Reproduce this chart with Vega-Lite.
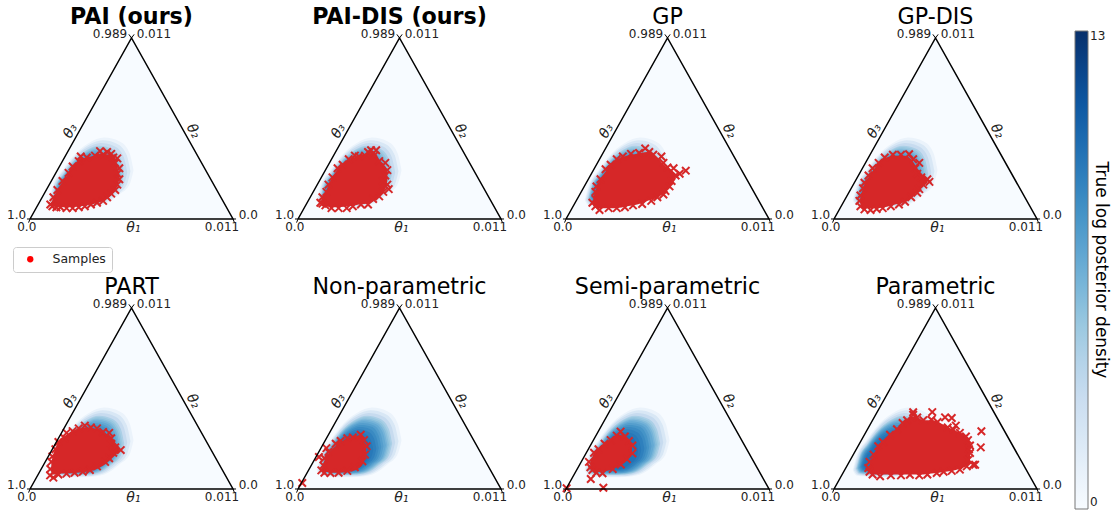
{"$schema":"https://vega.github.io/schema/vega-lite/v6.json","padding":0,"background":"white","config":{"view":{"stroke":null},"font":"DejaVu Sans","header":{"labels":false,"title":null,"labelFontSize":0,"labelPadding":0,"titlePadding":0}},
"datasets":{
"tri":[{"a":0,"b":0,"o":0},{"a":50,"b":100,"o":1},{"a":100,"b":0,"o":2},{"a":0,"b":0,"o":3}],
"ticks":[{"a":50,"b":100,"a2":48.7,"b2":102},{"a":50,"b":100,"a2":51.3,"b2":102},{"a":0,"b":0,"a2":-1.5,"b2":0},{"a":0,"b":0,"a2":-0.7,"b2":-2},{"a":100,"b":0,"a2":101.5,"b2":0},{"a":100,"b":0,"a2":100.7,"b2":-2}],
"labels":[{"a":39.4,"b":102.2,"t":"0.989"},{"a":61,"b":102.2,"t":"0.011"},{"a":-6.6,"b":2.2,"t":"1.0"},{"a":-1.6,"b":-4.2,"t":"0.0"},{"a":107.5,"b":2.2,"t":"0.0"},{"a":94.6,"b":-4.2,"t":"0.011"}],
"density":[
{"l":1,"v":0.8,"a":9.2,"lo":10.5,"hi":10.5},{"l":1,"v":0.8,"a":11,"lo":7.5,"hi":18},{"l":1,"v":0.8,"a":16,"lo":6.8,"hi":27},{"l":1,"v":0.8,"a":22.7,"lo":6.5,"hi":36.5},{"l":1,"v":0.8,"a":29,"lo":6.6,"hi":42},{"l":1,"v":0.8,"a":36.6,"lo":8,"hi":45},{"l":1,"v":0.8,"a":44,"lo":13.5,"hi":43},{"l":1,"v":0.8,"a":49,"lo":19,"hi":36.5},{"l":1,"v":0.8,"a":51,"lo":27,"hi":27},
{"l":2,"v":2,"a":9.7,"lo":10.7,"hi":10.7},{"l":2,"v":2,"a":11.5,"lo":7.9,"hi":17.9},{"l":2,"v":2,"a":16.2,"lo":7.2,"hi":26.4},{"l":2,"v":2,"a":22.6,"lo":6.9,"hi":35.4},{"l":2,"v":2,"a":28.6,"lo":7,"hi":40.7},{"l":2,"v":2,"a":35.8,"lo":8.4,"hi":43.5},{"l":2,"v":2,"a":42.8,"lo":13.6,"hi":41.6},{"l":2,"v":2,"a":47.6,"lo":18.8,"hi":35.4},{"l":2,"v":2,"a":49.5,"lo":26.4,"hi":26.4},
{"l":3,"v":3.2,"a":10.3,"lo":11,"hi":11},{"l":3,"v":3.2,"a":11.9,"lo":8.3,"hi":17.7},{"l":3,"v":3.2,"a":16.4,"lo":7.6,"hi":25.8},{"l":3,"v":3.2,"a":22.4,"lo":7.4,"hi":34.4},{"l":3,"v":3.2,"a":28.1,"lo":7.4,"hi":39.3},{"l":3,"v":3.2,"a":34.9,"lo":8.7,"hi":42},{"l":3,"v":3.2,"a":41.6,"lo":13.7,"hi":40.2},{"l":3,"v":3.2,"a":46.1,"lo":18.6,"hi":34.4},{"l":3,"v":3.2,"a":47.9,"lo":25.8,"hi":25.8},
{"l":4,"v":4.4,"a":10.8,"lo":11.2,"hi":11.2},{"l":4,"v":4.4,"a":12.4,"lo":8.6,"hi":17.6},{"l":4,"v":4.4,"a":16.6,"lo":8,"hi":25.2},{"l":4,"v":4.4,"a":22.3,"lo":7.8,"hi":33.3},{"l":4,"v":4.4,"a":27.7,"lo":7.9,"hi":38},{"l":4,"v":4.4,"a":34.1,"lo":9.1,"hi":40.5},{"l":4,"v":4.4,"a":40.4,"lo":13.7,"hi":38.8},{"l":4,"v":4.4,"a":44.7,"lo":18.4,"hi":33.3},{"l":4,"v":4.4,"a":46.4,"lo":25.2,"hi":25.2},
{"l":41,"v":5,"a":11.1,"lo":11.3,"hi":11.3},{"l":41,"v":5,"a":12.6,"lo":8.8,"hi":17.5},{"l":41,"v":5,"a":16.7,"lo":8.2,"hi":24.9},{"l":41,"v":5,"a":22.25,"lo":8,"hi":32.75},{"l":41,"v":5,"a":27.4,"lo":8.1,"hi":37.3},{"l":41,"v":5,"a":33.7,"lo":9.25,"hi":39.75},{"l":41,"v":5,"a":39.8,"lo":13.75,"hi":38.1},{"l":41,"v":5,"a":43.9,"lo":18.3,"hi":32.75},{"l":41,"v":5,"a":45.6,"lo":24.9,"hi":24.9},
{"l":5,"v":5.6,"a":11.4,"lo":11.4,"hi":11.4},{"l":5,"v":5.6,"a":12.8,"lo":9,"hi":17.4},{"l":5,"v":5.6,"a":16.8,"lo":8.4,"hi":24.6},{"l":5,"v":5.6,"a":22.2,"lo":8.2,"hi":32.2},{"l":5,"v":5.6,"a":27.2,"lo":8.3,"hi":36.6},{"l":5,"v":5.6,"a":33.3,"lo":9.4,"hi":39},{"l":5,"v":5.6,"a":39.2,"lo":13.8,"hi":37.4},{"l":5,"v":5.6,"a":43.2,"lo":18.2,"hi":32.2},{"l":5,"v":5.6,"a":44.8,"lo":24.6,"hi":24.6},
{"l":51,"v":6.2,"a":11.65,"lo":11.5,"hi":11.5},{"l":51,"v":6.2,"a":13,"lo":9.2,"hi":17.35},{"l":51,"v":6.2,"a":16.9,"lo":8.65,"hi":24.3},{"l":51,"v":6.2,"a":22.1,"lo":8.4,"hi":31.65},{"l":51,"v":6.2,"a":27,"lo":8.5,"hi":35.9},{"l":51,"v":6.2,"a":32.9,"lo":9.6,"hi":38.25},{"l":51,"v":6.2,"a":38.6,"lo":13.85,"hi":36.7},{"l":51,"v":6.2,"a":42.5,"lo":18.1,"hi":31.65},{"l":51,"v":6.2,"a":44,"lo":24.3,"hi":24.3},
{"l":6,"v":6.8,"a":11.9,"lo":11.6,"hi":11.6},{"l":6,"v":6.8,"a":13.3,"lo":9.4,"hi":17.3},{"l":6,"v":6.8,"a":17,"lo":8.9,"hi":24},{"l":6,"v":6.8,"a":22,"lo":8.6,"hi":31.1},{"l":6,"v":6.8,"a":26.8,"lo":8.7,"hi":35.3},{"l":6,"v":6.8,"a":32.5,"lo":9.8,"hi":37.5},{"l":6,"v":6.8,"a":38,"lo":13.9,"hi":36},{"l":6,"v":6.8,"a":41.8,"lo":18,"hi":31.1},{"l":6,"v":6.8,"a":43.3,"lo":24,"hi":24},
{"l":61,"v":7.4,"a":12.3,"lo":11.75,"hi":11.75},{"l":61,"v":7.4,"a":13.6,"lo":9.65,"hi":17.15},{"l":61,"v":7.4,"a":17.15,"lo":9.15,"hi":23.6},{"l":61,"v":7.4,"a":21.9,"lo":8.9,"hi":30.35},{"l":61,"v":7.4,"a":26.45,"lo":8.95,"hi":34.35},{"l":61,"v":7.4,"a":31.85,"lo":10,"hi":36.45},{"l":61,"v":7.4,"a":37.15,"lo":13.95,"hi":35.2},{"l":61,"v":7.4,"a":40.75,"lo":17.85,"hi":30.35},{"l":61,"v":7.4,"a":42.1,"lo":23.6,"hi":23.6},
{"l":7,"v":8,"a":12.7,"lo":11.9,"hi":11.9},{"l":7,"v":8,"a":13.9,"lo":9.9,"hi":17},{"l":7,"v":8,"a":17.3,"lo":9.4,"hi":23.2},{"l":7,"v":8,"a":21.8,"lo":9.2,"hi":29.6},{"l":7,"v":8,"a":26.1,"lo":9.2,"hi":33.4},{"l":7,"v":8,"a":31.2,"lo":10.2,"hi":35.4},{"l":7,"v":8,"a":36.3,"lo":14,"hi":34.4},{"l":7,"v":8,"a":39.7,"lo":17.7,"hi":29.6},{"l":7,"v":8,"a":41,"lo":23.2,"hi":23.2},
{"l":71,"v":8.5,"a":13.1,"lo":12.1,"hi":12.1},{"l":71,"v":8.5,"a":14.25,"lo":10.2,"hi":16.9},{"l":71,"v":8.5,"a":17.45,"lo":9.75,"hi":22.7},{"l":71,"v":8.5,"a":21.7,"lo":9.55,"hi":28.85},{"l":71,"v":8.5,"a":25.75,"lo":9.6,"hi":32.3},{"l":71,"v":8.5,"a":30.6,"lo":10.5,"hi":34.2},{"l":71,"v":8.5,"a":35.35,"lo":14.05,"hi":33.1},{"l":71,"v":8.5,"a":38.55,"lo":17.55,"hi":28.85},{"l":71,"v":8.5,"a":39.8,"lo":22.7,"hi":22.7},
{"l":8,"v":9,"a":13.5,"lo":12.3,"hi":12.3},{"l":8,"v":9,"a":14.6,"lo":10.5,"hi":16.8},{"l":8,"v":9,"a":17.6,"lo":10.1,"hi":22.2},{"l":8,"v":9,"a":21.6,"lo":9.9,"hi":28.1},{"l":8,"v":9,"a":25.4,"lo":10,"hi":31.2},{"l":8,"v":9,"a":30,"lo":10.8,"hi":33},{"l":8,"v":9,"a":34.4,"lo":14.1,"hi":31.8},{"l":8,"v":9,"a":37.4,"lo":17.4,"hi":28.1},{"l":8,"v":9,"a":38.6,"lo":22.2,"hi":22.2},
{"l":81,"v":9.35,"a":14.05,"lo":12.5,"hi":12.5},{"l":81,"v":9.35,"a":15.05,"lo":10.9,"hi":16.65},{"l":81,"v":9.35,"a":17.8,"lo":10.5,"hi":21.6},{"l":81,"v":9.35,"a":21.5,"lo":10.3,"hi":26.9},{"l":81,"v":9.35,"a":24.95,"lo":10.4,"hi":29.85},{"l":81,"v":9.35,"a":29.15,"lo":11.15,"hi":31.5},{"l":81,"v":9.35,"a":33.2,"lo":14.2,"hi":30.4},{"l":81,"v":9.35,"a":35.95,"lo":17.2,"hi":26.9},{"l":81,"v":9.35,"a":37.05,"lo":21.6,"hi":21.6},
{"l":9,"v":9.7,"a":14.6,"lo":12.8,"hi":12.8},{"l":9,"v":9.7,"a":15.5,"lo":11.3,"hi":16.5},{"l":9,"v":9.7,"a":18,"lo":10.9,"hi":21},{"l":9,"v":9.7,"a":21.4,"lo":10.8,"hi":25.8},{"l":9,"v":9.7,"a":24.5,"lo":10.8,"hi":28.5},{"l":9,"v":9.7,"a":28.3,"lo":11.5,"hi":30},{"l":9,"v":9.7,"a":32,"lo":14.3,"hi":29},{"l":9,"v":9.7,"a":34.5,"lo":17,"hi":25.8},{"l":9,"v":9.7,"a":35.5,"lo":21,"hi":21}],
"panels":[
{"p":1,"k":"t","t":"PAI (ours)","a":50,"b":111.6},{"p":2,"k":"t","t":"PAI-DIS (ours)","a":50,"b":111.6},{"p":3,"k":"t","t":"GP","a":50,"b":111.6},{"p":4,"k":"t","t":"GP-DIS","a":50,"b":111.6},{"p":5,"k":"t","t":"PART","a":50,"b":111.6},{"p":6,"k":"t","t":"Non-parametric","a":50,"b":111.6},{"p":7,"k":"t","t":"Semi-parametric","a":50,"b":111.6},{"p":8,"k":"t","t":"Parametric","a":50,"b":111.6},
{"p":1,"k":"c","a":10.5,"lo":7,"hi":9},{"p":1,"k":"c","a":14,"lo":6.5,"hi":17},{"p":1,"k":"c","a":17,"lo":6.5,"hi":22},{"p":1,"k":"c","a":20,"lo":6.5,"hi":27},{"p":1,"k":"c","a":25,"lo":7,"hi":33},{"p":1,"k":"c","a":30,"lo":8,"hi":34.5},{"p":1,"k":"c","a":35,"lo":9.5,"hi":36},{"p":1,"k":"c","a":39,"lo":12,"hi":35.5},{"p":1,"k":"c","a":42,"lo":16,"hi":32},{"p":1,"k":"c","a":43.5,"lo":20,"hi":27},{"p":1,"k":"c","a":44,"lo":23,"hi":25},
{"p":2,"k":"c","a":11.5,"lo":8.5,"hi":10.5},{"p":2,"k":"c","a":14,"lo":7,"hi":16},{"p":2,"k":"c","a":17,"lo":6.5,"hi":23},{"p":2,"k":"c","a":20,"lo":6.5,"hi":28},{"p":2,"k":"c","a":25,"lo":7,"hi":32.5},{"p":2,"k":"c","a":30,"lo":8,"hi":35},{"p":2,"k":"c","a":35,"lo":8.5,"hi":36},{"p":2,"k":"c","a":38,"lo":10.5,"hi":36},{"p":2,"k":"c","a":41,"lo":13.5,"hi":31},{"p":2,"k":"c","a":43,"lo":17,"hi":29},{"p":2,"k":"c","a":44,"lo":21,"hi":25},
{"p":3,"k":"c","a":13.5,"lo":7,"hi":12},{"p":3,"k":"c","a":15,"lo":6,"hi":17},{"p":3,"k":"c","a":20,"lo":6,"hi":27},{"p":3,"k":"c","a":25,"lo":6,"hi":32.5},{"p":3,"k":"c","a":30,"lo":7,"hi":35},{"p":3,"k":"c","a":35,"lo":8,"hi":36},{"p":3,"k":"c","a":40,"lo":10,"hi":37},{"p":3,"k":"c","a":45,"lo":12,"hi":34},{"p":3,"k":"c","a":49,"lo":15,"hi":29},{"p":3,"k":"c","a":52,"lo":19,"hi":27},{"p":3,"k":"c","a":54,"lo":22,"hi":25},
{"p":4,"k":"c","a":13,"lo":7,"hi":12},{"p":4,"k":"c","a":15,"lo":6,"hi":19},{"p":4,"k":"c","a":17,"lo":6,"hi":23},{"p":4,"k":"c","a":20,"lo":6,"hi":28},{"p":4,"k":"c","a":25,"lo":6.5,"hi":33.5},{"p":4,"k":"c","a":30,"lo":8,"hi":35},{"p":4,"k":"c","a":35,"lo":9.5,"hi":35},{"p":4,"k":"c","a":38,"lo":12,"hi":33},{"p":4,"k":"c","a":41,"lo":15,"hi":28},{"p":4,"k":"c","a":44,"lo":18,"hi":24},{"p":4,"k":"c","a":46,"lo":20,"hi":22},
{"p":5,"k":"c","a":10.5,"lo":8,"hi":15},{"p":5,"k":"c","a":12,"lo":8,"hi":21},{"p":5,"k":"c","a":14,"lo":8.5,"hi":26},{"p":5,"k":"c","a":18,"lo":8.5,"hi":30},{"p":5,"k":"c","a":23,"lo":9,"hi":33},{"p":5,"k":"c","a":28,"lo":9.5,"hi":34},{"p":5,"k":"c","a":33,"lo":11,"hi":33},{"p":5,"k":"c","a":38,"lo":14.5,"hi":30},{"p":5,"k":"c","a":41,"lo":17.5,"hi":27},{"p":5,"k":"c","a":44,"lo":21,"hi":23},
{"p":6,"k":"c","a":12,"lo":10,"hi":13},{"p":6,"k":"c","a":14,"lo":9.5,"hi":18},{"p":6,"k":"c","a":16,"lo":9,"hi":21},{"p":6,"k":"c","a":20,"lo":9,"hi":25},{"p":6,"k":"c","a":25,"lo":9.5,"hi":28},{"p":6,"k":"c","a":30,"lo":11.5,"hi":29.5},{"p":6,"k":"c","a":32,"lo":14,"hi":27},{"p":6,"k":"c","a":33.5,"lo":19,"hi":24},
{"p":7,"k":"c","a":12,"lo":11.5,"hi":15},{"p":7,"k":"c","a":14,"lo":10,"hi":20},{"p":7,"k":"c","a":16,"lo":9.5,"hi":22},{"p":7,"k":"c","a":20,"lo":10,"hi":25.5},{"p":7,"k":"c","a":25,"lo":12,"hi":30},{"p":7,"k":"c","a":28,"lo":14,"hi":29.5},{"p":7,"k":"c","a":31,"lo":17,"hi":26},{"p":7,"k":"c","a":32.5,"lo":20,"hi":24},
{"p":8,"k":"c","a":17.5,"lo":10,"hi":13},{"p":8,"k":"c","a":20,"lo":8,"hi":20},{"p":8,"k":"c","a":24,"lo":8,"hi":26},{"p":8,"k":"c","a":28,"lo":8,"hi":30},{"p":8,"k":"c","a":34,"lo":8,"hi":36},{"p":8,"k":"c","a":39,"lo":8,"hi":40},{"p":8,"k":"c","a":44,"lo":8,"hi":38},{"p":8,"k":"c","a":48,"lo":8.5,"hi":38},{"p":8,"k":"c","a":55,"lo":9.5,"hi":35},{"p":8,"k":"c","a":60,"lo":10.5,"hi":32},{"p":8,"k":"c","a":64,"lo":12,"hi":30},{"p":8,"k":"c","a":66,"lo":13,"hi":28},{"p":8,"k":"c","a":67,"lo":14,"hi":26},
{"p":1,"k":"x","a":10,"b":8},{"p":1,"k":"x","a":11.5,"b":12},{"p":1,"k":"x","a":13.5,"b":16},{"p":1,"k":"x","a":16,"b":21},{"p":1,"k":"x","a":19,"b":25.5},{"p":1,"k":"x","a":21,"b":29},{"p":1,"k":"x","a":24,"b":32},{"p":1,"k":"x","a":25,"b":34.5},{"p":1,"k":"x","a":28,"b":34},{"p":1,"k":"x","a":32,"b":35},{"p":1,"k":"x","a":34.5,"b":37.5},{"p":1,"k":"x","a":36,"b":35.5},{"p":1,"k":"x","a":38,"b":37},{"p":1,"k":"x","a":40,"b":36},{"p":1,"k":"x","a":41,"b":34},{"p":1,"k":"x","a":43,"b":33.5},{"p":1,"k":"x","a":42,"b":31},{"p":1,"k":"x","a":44,"b":28},{"p":1,"k":"x","a":43,"b":25},{"p":1,"k":"x","a":44,"b":22},{"p":1,"k":"x","a":43,"b":19},{"p":1,"k":"x","a":42,"b":16},{"p":1,"k":"x","a":40,"b":14},{"p":1,"k":"x","a":38,"b":12},{"p":1,"k":"x","a":36,"b":10},{"p":1,"k":"x","a":33,"b":9},{"p":1,"k":"x","a":30,"b":8},{"p":1,"k":"x","a":27,"b":7},{"p":1,"k":"x","a":24,"b":6.5},{"p":1,"k":"x","a":21,"b":6},{"p":1,"k":"x","a":18,"b":6},{"p":1,"k":"x","a":15,"b":6.5},{"p":1,"k":"x","a":13,"b":6.5},{"p":1,"k":"x","a":11,"b":7},
{"p":2,"k":"x","a":11,"b":9},{"p":2,"k":"x","a":12,"b":12},{"p":2,"k":"x","a":14,"b":15},{"p":2,"k":"x","a":15,"b":19},{"p":2,"k":"x","a":17,"b":23},{"p":2,"k":"x","a":19.5,"b":28},{"p":2,"k":"x","a":22,"b":30},{"p":2,"k":"x","a":25,"b":33},{"p":2,"k":"x","a":28,"b":35},{"p":2,"k":"x","a":30,"b":34.5},{"p":2,"k":"x","a":33,"b":35},{"p":2,"k":"x","a":34.5,"b":37},{"p":2,"k":"x","a":36,"b":38},{"p":2,"k":"x","a":38.5,"b":38},{"p":2,"k":"x","a":37.5,"b":35},{"p":2,"k":"x","a":40,"b":32},{"p":2,"k":"x","a":43,"b":31},{"p":2,"k":"x","a":44,"b":27},{"p":2,"k":"x","a":43,"b":24},{"p":2,"k":"x","a":42,"b":21},{"p":2,"k":"x","a":44,"b":19},{"p":2,"k":"x","a":44.7,"b":16.5},{"p":2,"k":"x","a":42,"b":15},{"p":2,"k":"x","a":40,"b":12.5},{"p":2,"k":"x","a":37,"b":11},{"p":2,"k":"x","a":34.5,"b":8},{"p":2,"k":"x","a":31,"b":8},{"p":2,"k":"x","a":27,"b":7},{"p":2,"k":"x","a":24,"b":6},{"p":2,"k":"x","a":20,"b":6},{"p":2,"k":"x","a":16.5,"b":6},{"p":2,"k":"x","a":13.5,"b":7.5},{"p":2,"k":"x","a":12,"b":8.5},
{"p":3,"k":"x","a":13,"b":9},{"p":3,"k":"x","a":14.5,"b":11},{"p":3,"k":"x","a":14.5,"b":15},{"p":3,"k":"x","a":15,"b":18},{"p":3,"k":"x","a":17,"b":22},{"p":3,"k":"x","a":19.5,"b":27.5},{"p":3,"k":"x","a":22,"b":30},{"p":3,"k":"x","a":25,"b":33},{"p":3,"k":"x","a":28,"b":34.5},{"p":3,"k":"x","a":32,"b":36},{"p":3,"k":"x","a":36,"b":36.5},{"p":3,"k":"x","a":39,"b":39},{"p":3,"k":"x","a":41,"b":37},{"p":3,"k":"x","a":43,"b":35.5},{"p":3,"k":"x","a":47,"b":34.5},{"p":3,"k":"x","a":48,"b":31},{"p":3,"k":"x","a":50,"b":28.5},{"p":3,"k":"x","a":53,"b":28},{"p":3,"k":"x","a":56,"b":25},{"p":3,"k":"x","a":59,"b":26.7},{"p":3,"k":"x","a":54,"b":24},{"p":3,"k":"x","a":52,"b":21},{"p":3,"k":"x","a":51,"b":18},{"p":3,"k":"x","a":49,"b":15.5},{"p":3,"k":"x","a":48,"b":13.5},{"p":3,"k":"x","a":45,"b":12},{"p":3,"k":"x","a":42,"b":10},{"p":3,"k":"x","a":37.5,"b":8.3},{"p":3,"k":"x","a":33,"b":7.5},{"p":3,"k":"x","a":29,"b":6.5},{"p":3,"k":"x","a":25,"b":6},{"p":3,"k":"x","a":21,"b":6},{"p":3,"k":"x","a":16.5,"b":5},{"p":3,"k":"x","a":14.5,"b":7},
{"p":4,"k":"x","a":12.5,"b":10},{"p":4,"k":"x","a":13,"b":13},{"p":4,"k":"x","a":14.3,"b":17},{"p":4,"k":"x","a":15,"b":20},{"p":4,"k":"x","a":17,"b":24},{"p":4,"k":"x","a":19,"b":28},{"p":4,"k":"x","a":22,"b":31},{"p":4,"k":"x","a":25,"b":34},{"p":4,"k":"x","a":29,"b":35.5},{"p":4,"k":"x","a":33,"b":35.5},{"p":4,"k":"x","a":37,"b":35.8},{"p":4,"k":"x","a":39,"b":33},{"p":4,"k":"x","a":42,"b":31},{"p":4,"k":"x","a":40,"b":28},{"p":4,"k":"x","a":41,"b":25},{"p":4,"k":"x","a":43,"b":23},{"p":4,"k":"x","a":46,"b":22},{"p":4,"k":"x","a":47,"b":20.5},{"p":4,"k":"x","a":44,"b":19},{"p":4,"k":"x","a":42,"b":16.5},{"p":4,"k":"x","a":41,"b":14.5},{"p":4,"k":"x","a":38,"b":12},{"p":4,"k":"x","a":35,"b":9.5},{"p":4,"k":"x","a":32,"b":8},{"p":4,"k":"x","a":28,"b":7},{"p":4,"k":"x","a":24,"b":6},{"p":4,"k":"x","a":21,"b":5.5},{"p":4,"k":"x","a":18,"b":5},{"p":4,"k":"x","a":15,"b":5.3},{"p":4,"k":"x","a":13,"b":7},
{"p":5,"k":"x","a":9.9,"b":7.5},{"p":5,"k":"x","a":10,"b":11},{"p":5,"k":"x","a":10.5,"b":15},{"p":5,"k":"x","a":11,"b":18},{"p":5,"k":"x","a":12.5,"b":22},{"p":5,"k":"x","a":14,"b":26},{"p":5,"k":"x","a":17,"b":28},{"p":5,"k":"x","a":18,"b":31},{"p":5,"k":"x","a":21,"b":32},{"p":5,"k":"x","a":24,"b":33.5},{"p":5,"k":"x","a":27,"b":35},{"p":5,"k":"x","a":30,"b":34},{"p":5,"k":"x","a":33,"b":33.5},{"p":5,"k":"x","a":36,"b":31.5},{"p":5,"k":"x","a":39,"b":31},{"p":5,"k":"x","a":40,"b":28},{"p":5,"k":"x","a":40,"b":25},{"p":5,"k":"x","a":42,"b":23},{"p":5,"k":"x","a":44.7,"b":21.5},{"p":5,"k":"x","a":41,"b":20},{"p":5,"k":"x","a":39,"b":17},{"p":5,"k":"x","a":37,"b":15},{"p":5,"k":"x","a":33,"b":12.5},{"p":5,"k":"x","a":29.5,"b":10.5},{"p":5,"k":"x","a":26,"b":9.5},{"p":5,"k":"x","a":22,"b":9},{"p":5,"k":"x","a":18,"b":8.5},{"p":5,"k":"x","a":14,"b":8},{"p":5,"k":"x","a":11.5,"b":6.3},
{"p":6,"k":"x","a":11.5,"b":10.3},{"p":6,"k":"x","a":10.3,"b":17.7},{"p":6,"k":"x","a":14,"b":22.6},{"p":6,"k":"x","a":2.1,"b":3.3},{"p":6,"k":"x","a":12.5,"b":13},{"p":6,"k":"x","a":13,"b":17},{"p":6,"k":"x","a":15,"b":20.5},{"p":6,"k":"x","a":18.6,"b":25},{"p":6,"k":"x","a":21,"b":26.5},{"p":6,"k":"x","a":24.3,"b":28},{"p":6,"k":"x","a":27,"b":28.5},{"p":6,"k":"x","a":30.9,"b":30},{"p":6,"k":"x","a":32.5,"b":27},{"p":6,"k":"x","a":33.8,"b":23.6},{"p":6,"k":"x","a":33,"b":19},{"p":6,"k":"x","a":31.7,"b":15.3},{"p":6,"k":"x","a":28,"b":12},{"p":6,"k":"x","a":24.3,"b":10},{"p":6,"k":"x","a":20,"b":9},{"p":6,"k":"x","a":16,"b":8.8},{"p":6,"k":"x","a":13,"b":9},
{"p":7,"k":"x","a":0.3,"b":0.4},{"p":7,"k":"x","a":12.2,"b":5.5},{"p":7,"k":"x","a":18.4,"b":0.7},{"p":7,"k":"x","a":11.3,"b":15},{"p":7,"k":"x","a":12,"b":12},{"p":7,"k":"x","a":13,"b":10.5},{"p":7,"k":"x","a":13.8,"b":20},{"p":7,"k":"x","a":16,"b":22},{"p":7,"k":"x","a":19,"b":25},{"p":7,"k":"x","a":22,"b":27},{"p":7,"k":"x","a":25,"b":29.5},{"p":7,"k":"x","a":26.9,"b":31.7},{"p":7,"k":"x","a":29,"b":29},{"p":7,"k":"x","a":31,"b":26.5},{"p":7,"k":"x","a":32.7,"b":24},{"p":7,"k":"x","a":32.7,"b":19.7},{"p":7,"k":"x","a":30,"b":16.5},{"p":7,"k":"x","a":27,"b":13.5},{"p":7,"k":"x","a":23,"b":11},{"p":7,"k":"x","a":18,"b":8.7},{"p":7,"k":"x","a":15,"b":9},
{"p":8,"k":"x","a":16.9,"b":11.6},{"p":8,"k":"x","a":17.5,"b":15},{"p":8,"k":"x","a":19.5,"b":19},{"p":8,"k":"x","a":21.8,"b":23.6},{"p":8,"k":"x","a":24,"b":26},{"p":8,"k":"x","a":27.6,"b":30},{"p":8,"k":"x","a":31,"b":33},{"p":8,"k":"x","a":33.8,"b":36.5},{"p":8,"k":"x","a":36,"b":38},{"p":8,"k":"x","a":39,"b":41},{"p":8,"k":"x","a":39,"b":42.4},{"p":8,"k":"x","a":41,"b":39.5},{"p":8,"k":"x","a":44,"b":38},{"p":8,"k":"x","a":48.4,"b":42.5},{"p":8,"k":"x","a":48,"b":38.3},{"p":8,"k":"x","a":51,"b":37},{"p":8,"k":"x","a":54.7,"b":39.6},{"p":8,"k":"x","a":58,"b":39.2},{"p":8,"k":"x","a":60,"b":35},{"p":8,"k":"x","a":56,"b":34},{"p":8,"k":"x","a":58.8,"b":32.8},{"p":8,"k":"x","a":62,"b":31},{"p":8,"k":"x","a":65,"b":29},{"p":8,"k":"x","a":66,"b":27},{"p":8,"k":"x","a":67,"b":24},{"p":8,"k":"x","a":66.5,"b":22},{"p":8,"k":"x","a":67,"b":19.9},{"p":8,"k":"x","a":66,"b":16},{"p":8,"k":"x","a":69.5,"b":13.4},{"p":8,"k":"x","a":68.6,"b":13.4},{"p":8,"k":"x","a":65.4,"b":12.5},{"p":8,"k":"x","a":62,"b":10.7},{"p":8,"k":"x","a":58,"b":10},{"p":8,"k":"x","a":54,"b":9.5},{"p":8,"k":"x","a":50.6,"b":8.8},{"p":8,"k":"x","a":46,"b":8},{"p":8,"k":"x","a":42,"b":7.5},{"p":8,"k":"x","a":37.4,"b":7.9},{"p":8,"k":"x","a":33,"b":7.5},{"p":8,"k":"x","a":28,"b":7.5},{"p":8,"k":"x","a":22.7,"b":7},{"p":8,"k":"x","a":19,"b":8},{"p":8,"k":"x","a":17.5,"b":9.5},{"p":8,"k":"x","a":72.6,"b":31.9},{"p":8,"k":"x","a":72.3,"b":23}
]},
"data":{"name":"panels"},
"facet":{"field":"p","type":"ordinal","header":{"labels":false,"title":null,"labelExpr":"''","labelFontSize":0,"labelPadding":0,"titlePadding":0}},
"columns":4,
"spacing":{"row":28,"column":0},
"bounds":"flush",
"spec":{"width":268,"height":242,
"encoding":{
"x":{"field":"a","type":"quantitative","axis":null,"scale":{"domain":[-14.78,117.24],"nice":false,"zero":false}},
"y":{"field":"b","type":"quantitative","axis":null,"scale":{"domain":[-12.71,121],"nice":false,"zero":false}}},
"layer":[
{"data":{"name":"tri"},"transform":[{"filter":"datum.o<3"}],"mark":{"type":"area","orient":"vertical","interpolate":"linear","fill":"#f7fbff","opacity":1},"encoding":{"y":{"field":"b","type":"quantitative"},"y2":{"datum":0}}},
{"data":{"name":"density"},"mark":{"type":"area","orient":"vertical","interpolate":"monotone","opacity":1},"encoding":{"y":{"field":"hi","type":"quantitative"},"y2":{"field":"lo"},"detail":{"field":"l"},
"color":{"field":"v","type":"quantitative","scale":{"domain":[0,13],"range":["#f7fbff","#deebf7","#c6dbef","#9ecae1","#6baed6","#4292c6","#2171b5","#08519c","#08306b"]},
"legend":{"orient":"none","legendX":1075,"legendY":31,"direction":"vertical","gradientLength":478,"gradientThickness":13,"gradientStrokeColor":"#777","gradientStrokeWidth":1,"values":[0,13],"labelFontSize":12,"labelColor":"#222","labelOverlap":false,"labelFont":"DejaVu Sans","title":"True log posterior density","titleOrient":"right","titleFontSize":17,"titleFontWeight":"normal","titleFont":"DejaVu Sans","titleAngle":90,"titleAnchor":"middle","titlePadding":-13,"titleLimit":400,"titleColor":"#000","tickCount":2}}}},
{"transform":[{"filter":"datum.k=='c'"}],"mark":{"type":"area","orient":"vertical","interpolate":"monotone","fill":"#d62728","opacity":1},"encoding":{"y":{"field":"hi","type":"quantitative"},"y2":{"field":"lo"}}},
{"transform":[{"filter":"datum.k=='x'"}],"mark":{"type":"point","filled":false,"shape":"M-1,-1L1,1M-1,1L1,-1","size":56,"strokeWidth":2,"opacity":1,"stroke":"#d62728"}},
{"transform":[{"filter":"datum.k=='x'"}],"mark":{"type":"point","filled":true,"shape":"circle","size":0,"opacity":1},"encoding":{"fill":{"datum":"Samples","scale":{"domain":["Samples"],"range":["#ff0000"]},"legend":{"orient":"none","legendX":13,"legendY":247,"title":null,"symbolType":"circle","symbolSize":40,"symbolOpacity":1,"symbolOffset":5,"labelFontSize":12.5,"labelColor":"#222","labelFont":"DejaVu Sans","labelOffset":16,"padding":6,"fillColor":"white","strokeColor":"#ccc","cornerRadius":3,"rowPadding":0}}}},
{"data":{"name":"tri"},"mark":{"type":"line","color":"black","strokeWidth":1.5},"encoding":{"order":{"field":"o"}}},
{"data":{"name":"ticks"},"mark":{"type":"rule","color":"black","strokeWidth":1},"encoding":{"x2":{"field":"a2"},"y2":{"field":"b2"}}},
{"data":{"name":"labels"},"mark":{"type":"text","fontSize":12,"color":"#222","font":"DejaVu Sans"},"encoding":{"text":{"field":"t"}}},
{"data":{"values":[{"a":50.9,"b":-5,"t":"θ₁"}]},"mark":{"type":"text","fontSize":14,"fontStyle":"italic","color":"#222","font":"DejaVu Sans"},"encoding":{"text":{"field":"t"}}},
{"data":{"values":[{"a":80.4,"b":48.6,"t":"θ₂"}]},"mark":{"type":"text","fontSize":14,"fontStyle":"italic","color":"#222","angle":60,"font":"DejaVu Sans"},"encoding":{"text":{"field":"t"}}},
{"data":{"values":[{"a":20,"b":48.6,"t":"θ₃"}]},"mark":{"type":"text","fontSize":14,"fontStyle":"italic","color":"#222","angle":300,"font":"DejaVu Sans"},"encoding":{"text":{"field":"t"}}},
{"transform":[{"filter":"datum.k=='t' && datum.p<=2"}],"mark":{"type":"text","fontSize":22.2,"fontWeight":"bold","color":"black","font":"DejaVu Sans"},"encoding":{"text":{"field":"t"}}},
{"transform":[{"filter":"datum.k=='t' && datum.p>2"}],"mark":{"type":"text","fontSize":22.2,"color":"black","font":"DejaVu Sans"},"encoding":{"text":{"field":"t"}}}
]}}
